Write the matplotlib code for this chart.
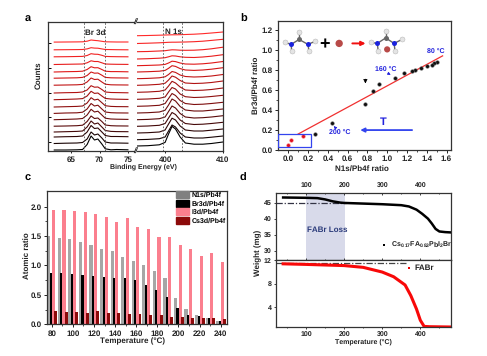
import matplotlib
matplotlib.use("Agg")
import matplotlib.pyplot as plt
from matplotlib import font_manager
from matplotlib.colors import LinearSegmentedColormap
from matplotlib.patches import Rectangle, Patch

font_manager.findfont(font_manager.FontProperties(family='Liberation Sans', weight='bold'), fallback_to_default=False)
plt.rcParams['font.family'] = ['Liberation Sans', 'DejaVu Sans']
plt.rcParams['font.weight'] = 'bold'
plt.rcParams['text.hinting'] = 'no_hinting'
plt.rcParams['text.hinting_factor'] = 1
plt.rcParams['mathtext.default'] = 'regular'
plt.rcParams['mathtext.fontset'] = 'custom'
plt.rcParams['mathtext.rm'] = 'Liberation Sans:bold'
plt.rcParams['axes.linewidth'] = 0.9
plt.rcParams['axes.edgecolor'] = '#333333'

W, H = 487, 356

# ---- panel a: spectra (arbitrary counts) ----
br_energy = [62, 64, 66, 67, 67.8, 68.5, 69.1, 69.7, 70.4, 71, 72, 73, 75]
br_counts = [
    [1, 1, 1.2, 1.5, 6.5, 15, 11, 12, 7, 2.2, 1.2, 1.5, 1.2],
    [7.5, 7.8, 8, 8.5, 12, 19, 16, 17, 13, 9, 8, 8, 7.8],
    [14, 14.3, 14.5, 15, 19, 25.5, 22.5, 23, 19, 15.5, 14.5, 14.5, 14.3],
    [19, 19.3, 19.6, 20, 24, 30, 27, 28, 24, 20.5, 19.6, 19.4, 19.3],
    [24.8, 25, 25.3, 25.8, 29.5, 35, 32.5, 33, 29.5, 26, 25.3, 25.1, 25],
    [31.3, 31.6, 32, 32.5, 36, 41.7, 39, 39.8, 36, 32.8, 32, 31.8, 31.6],
    [37.6, 38, 38.2, 38.8, 42, 47.5, 45, 45.8, 42, 39, 38.3, 38.1, 38],
    [44, 44.3, 44.6, 45, 48, 53.3, 51, 51.8, 48.3, 45.3, 44.6, 44.4, 44.3],
    [51.3, 51.6, 52, 52.4, 55, 59.7, 57.6, 58, 55, 52.6, 52, 51.8, 51.6],
    [58, 58.3, 58.5, 59, 61, 65.3, 63.8, 64, 61.5, 59, 58.5, 58.4, 58.2],
    [65.8, 66, 66.2, 66.6, 69, 73, 71.5, 71.8, 69, 66.8, 66.2, 66.1, 66],
    [72.8, 73, 73.2, 73.6, 75.5, 79, 77.8, 78, 75.8, 73.6, 73.2, 73.1, 73],
    [79, 79.3, 79.5, 79.8, 81.5, 84.3, 83.2, 83.3, 81.5, 79.8, 79.4, 79.4, 79.2],
    [86.5, 86.7, 86.9, 87, 88.2, 90.2, 89.5, 89.5, 88.2, 87, 86.8, 86.7, 86.6],
    [94.2, 94.3, 94.5, 94.6, 95.5, 97.3, 96.8, 96.7, 95.7, 94.6, 94.4, 94.3, 94.2],
    [101.2, 101.3, 101.4, 101.5, 102.1, 103.3, 102.9, 102.8, 102.1, 101.5, 101.4, 101.3, 101.2],
    [108.9, 109, 109.1, 109.2, 109.8, 111, 110.6, 110.3, 109.7, 109.2, 109.1, 109, 109],
]
n_energy = [395.15, 397, 399, 400, 400.6, 401.2, 401.8, 402.6, 403.5, 405, 406.5, 408, 410]
n_counts = [
    [5, 5.3, 6.2, 8.6, 17, 24.6, 22, 14, 8, 6.8, 6.8, 7.5, 9],
    [11.3, 11.6, 12.3, 14, 20, 26, 24, 18, 14, 13, 13, 13.8, 15],
    [18, 18.3, 19, 21, 27, 32.8, 31, 25, 21, 20, 20, 20.8, 22],
    [24.7, 25, 25.7, 27.5, 33, 38.5, 36.5, 31, 27.5, 26.5, 26.8, 27.5, 28.7],
    [31.3, 31.6, 32.3, 34, 39.5, 45, 43, 37.5, 34, 33, 33.3, 34, 35.3],
    [38, 38.3, 39, 40.8, 46, 52, 50, 44.5, 41, 40, 40, 40.8, 42],
    [44.7, 45, 45.7, 47.5, 52.5, 57.5, 55.5, 50.5, 47.5, 46.5, 46.8, 47.5, 48.7],
    [51.7, 52, 52.7, 54, 59, 63.5, 62, 57, 54.3, 53.5, 53.8, 54.5, 55.7],
    [58.7, 59, 59.7, 61, 65, 69.7, 68, 64, 61, 60.5, 60.8, 61.5, 63],
    [65.7, 66, 66.7, 67.8, 71, 75, 73.8, 70.5, 68, 67.5, 67.8, 68.5, 70],
    [72.3, 72.6, 73.2, 74.2, 76.5, 79.5, 78.6, 76, 74.5, 74, 74.3, 75, 76.5],
    [79, 79.3, 79.8, 80.6, 82.7, 85.3, 84.6, 82.4, 81, 80.6, 81, 81.8, 83.3],
    [85.3, 85.6, 86, 86.6, 88, 89.8, 89.4, 88, 87, 86.8, 87.2, 88, 89.5],
    [92, 92.3, 92.8, 93.3, 94.2, 95.2, 95, 94.2, 93.7, 93.5, 94, 94.8, 96.3],
    [99.3, 99.5, 100, 100.3, 100.8, 101.2, 101.1, 100.8, 100.7, 100.8, 101.3, 102.2, 103.8],
    [107.5, 107.8, 108.2, 108.5, 108.7, 108.8, 108.8, 108.9, 109, 109.3, 109.8, 110.6, 111.7],
    [115.3, 115.5, 115.8, 116, 116.1, 116.2, 116.2, 116.3, 116.5, 116.8, 117.3, 118, 119],
]

# ---- panel b ----
n_ratio_black = [1.5, 1.47, 1.455, 1.40, 1.34, 1.28, 1.25, 1.17, 1.08, 0.92, 0.86, 0.78, 0.44, 0.27]
br_ratio_black = [0.88, 0.875, 0.855, 0.84, 0.825, 0.80, 0.79, 0.775, 0.72, 0.66, 0.59, 0.46, 0.27, 0.16]
n_ratio_red = [0.15, 0.03, 0.0]
br_ratio_red = [0.145, 0.10, 0.05]
fit_x = [0.10, 1.56]
fit_y = [0.16, 0.945]

# ---- panel c ----
temps = [80, 90, 100, 110, 120, 130, 140, 150, 160, 170, 180, 190, 200, 210, 220, 230, 240]
n1s = [1.50, 1.47, 1.45, 1.40, 1.35, 1.28, 1.24, 1.15, 1.08, 1.01, 0.91, 0.78, 0.44, 0.26, 0.15, 0.10, 0.05]
br3d = [0.88, 0.88, 0.85, 0.84, 0.82, 0.80, 0.79, 0.78, 0.75, 0.67, 0.59, 0.46, 0.27, 0.16, 0.14, 0.10, 0.05]
i3d = [1.95, 1.95, 1.93, 1.90, 1.87, 1.83, 1.74, 1.80, 1.66, 1.62, 1.48, 1.49, 1.35, 1.28, 1.16, 1.22, 1.06]
cs3d = [0.22, 0.21, 0.21, 0.20, 0.22, 0.20, 0.19, 0.18, 0.17, 0.16, 0.15, 0.13, 0.12, 0.11, 0.10, 0.10, 0.09]

# ---- panel d ----
tga_t = [40, 100, 130, 150, 170, 190, 200, 250, 300, 350, 370, 390, 405, 420, 430, 440, 450, 465, 480]
tga_w = [46.6, 46.5, 46.4, 46.0, 45.4, 45.0, 44.9, 44.7, 44.5, 44.2, 43.8, 42.8, 41.5, 40.0, 38.5, 36.8, 36.0, 35.8, 35.7]
fabr_t = [40, 100, 200, 250, 300, 330, 360, 375, 390, 400, 410, 425, 480]
fabr_w = [11.4, 11.3, 11.1, 10.8, 10.0, 9.2, 7.8, 6.0, 3.7, 1.8, 0.75, 0.7, 0.65]

fig = plt.figure(figsize=(W / 100, H / 100), dpi=100, facecolor='white')


def axpx(x0, y0, x1, y1):
    return fig.add_axes([x0 / W, 1 - y1 / H, (x1 - x0) / W, (y1 - y0) / H])


def tpx(x, y, s, **kw):
    kw.setdefault('ha', 'center')
    kw.setdefault('va', 'center')
    kw.setdefault('color', '#222222')
    fig.text(x / W, 1 - y / H, s, **kw)


# ---------- a ----------
cm = LinearSegmentedColormap.from_list('t', ['#000000', '#5a0a0a', '#a01010', '#e01818', '#ff2a2a'])
axL = axpx(48, 22, 134, 151)
axR = axpx(137, 22, 223, 151)
n = len(br_counts)
for i in range(n):
    c = cm(i / (n - 1))
    axL.plot(br_energy, br_counts[i], color=c, lw=0.8)
    axR.plot(n_energy, n_counts[i], color=c, lw=0.8)
axL.set_xlim(60.9, 76.07)
axR.set_xlim(395.15, 410)
for a in (axL, axR):
    a.set_ylim(0, 129)
    a.tick_params(axis='x', labelsize=5.6, length=1.5, width=0.7, pad=2, colors='#222222')
for x in (67.3, 71):
    axL.axvline(x, color='#555555', lw=0.6, ls=(0, (2, 2)))
for x in (399.7, 403):
    axR.axvline(x, color='#555555', lw=0.6, ls=(0, (2, 2)))
axL.spines['right'].set_visible(False)
axR.spines['left'].set_visible(False)
axL.set_xticks([65, 70, 75])
axR.set_xticks([400, 410])
axL.set_yticks([9, 34, 58, 83, 108])
axL.tick_params(axis='y', direction='in', length=2, width=0.7, labelleft=False)
axR.set_yticks([])
tpx(95, 32.5, 'Br 3d', fontsize=5.5)
tpx(173, 32, 'N 1s', fontsize=5.5)
tpx(135.5, 21.5, '//', fontsize=5.5, style='italic')
tpx(135.5, 151, '//', fontsize=5.5, style='italic')
tpx(39, 75, 'Counts', fontsize=5.5, rotation=90)
tpx(143, 167, 'Binding Energy (eV)', fontsize=5.1)
tpx(28, 19.5, 'a', fontsize=8, color='black')

# ---------- b ----------
axb = axpx(278.3, 21, 451, 150)
axb.set_xlim(-0.1, 1.645)
axb.set_ylim(0, 1.295)
axb.plot(fit_x, fit_y, color='#f03030', lw=0.9, zorder=2)
axb.scatter(n_ratio_black, br_ratio_black, s=7, color='#111111', edgecolors='#777777', linewidths=0.3, zorder=3)
axb.scatter(n_ratio_red, br_ratio_red, s=7, color='#e01020', edgecolors='#ff8080', linewidths=0.3, zorder=3)
axb.add_patch(Rectangle((-0.1, 0.035), 0.33, 0.125, fill=False, ec='#3344ee', lw=0.9, zorder=4))
axb.set_xticks([0, 0.2, 0.4, 0.6, 0.8, 1.0, 1.2, 1.4, 1.6])
axb.set_xticks([0.1, 0.3, 0.5, 0.7, 0.9, 1.1, 1.3, 1.5], minor=True)
axb.set_yticks([0, 0.2, 0.4, 0.6, 0.8, 1.0, 1.2])
axb.set_yticks([0.1, 0.3, 0.5, 0.7, 0.9, 1.1], minor=True)
axb.xaxis.set_major_formatter(lambda v, p: f'{v:.1f}')
axb.yaxis.set_major_formatter(lambda v, p: f'{v:.1f}')
axb.tick_params(which='major', labelsize=6, length=2.5, width=0.7, pad=1.5, colors='#222222')
axb.tick_params(which='minor', length=1.5, width=0.5)
arrow = dict(arrowstyle='-|>', mutation_scale=4)
axb.annotate('', xy=(1.06, 0.74), xytext=(0.99, 0.78), arrowprops=dict(color='#2222dd', lw=0.6, **arrow))
axb.annotate('', xy=(0.44, 0.26), xytext=(0.49, 0.21), arrowprops=dict(color='#2222dd', lw=0.6, **arrow))
axb.annotate('', xy=(0.78, 0.64), xytext=(0.78, 0.74), arrowprops=dict(color='black', lw=0.5, arrowstyle='-|>', mutation_scale=6))
axb.annotate('', xy=(0.70, 0.20), xytext=(1.28, 0.20), arrowprops=dict(color='#3344ee', lw=1.3, arrowstyle='-|>', mutation_scale=6))
axb.annotate('', xy=(0.81, 1.07), xytext=(0.62, 1.07), arrowprops=dict(color='#f01010', lw=1.4, arrowstyle='-|>', mutation_scale=6))
for x, y, s in [(1.49, 0.99, '80 °C'), (0.99, 0.81, '160 °C'), (0.52, 0.18, '200 °C')]:
    axb.text(x, y, s, color='#2222dd', fontsize=5, ha='center', va='center')
axb.text(0.96, 0.275, 'T', color='#2222dd', fontsize=8, ha='center', va='center')
axb.text(0.365, 1.055, '+', color='black', fontsize=13, ha='center', va='center')
h_atoms = [(0.11, 1.18), (-0.03, 1.08), (0.035, 0.99), (0.27, 1.09), (0.21, 0.99),
           (0.985, 1.19), (0.84, 1.08), (0.91, 0.99), (1.15, 1.11), (1.08, 0.99)]
n_atoms = [(0.03, 1.06), (0.20, 1.06), (0.90, 1.07), (1.07, 1.07)]
c_atoms = [(0.11, 1.11), (0.985, 1.125)]
mol1 = [[(0.11, 1.11), (0.03, 1.06)], [(0.11, 1.11), (0.20, 1.06)], [(0.11, 1.11), (0.11, 1.18)],
        [(0.03, 1.06), (-0.03, 1.08)], [(0.03, 1.06), (0.035, 0.99)], [(0.20, 1.06), (0.27, 1.09)], [(0.20, 1.06), (0.21, 0.99)]]
mol2 = [[(0.985, 1.125), (0.90, 1.07)], [(0.985, 1.125), (1.07, 1.07)], [(0.985, 1.125), (0.985, 1.19)],
        [(0.90, 1.07), (0.84, 1.08)], [(0.90, 1.07), (0.91, 0.99)], [(1.07, 1.07), (1.15, 1.11)], [(1.07, 1.07), (1.08, 0.99)]]
for bond in mol1 + mol2:
    axb.plot([bond[0][0], bond[1][0]], [bond[0][1], bond[1][1]], color='#666666', lw=1.0, zorder=3)
axb.scatter(*zip(*h_atoms), s=13, color='#e4e4e4', edgecolors='#aaaaaa', linewidths=0.3, zorder=4)
axb.scatter(*zip(*n_atoms), s=13, color='#1a22dd', linewidths=0, zorder=4)
axb.scatter(*zip(*c_atoms), s=13, color='#666666', linewidths=0, zorder=4)
axb.scatter([0.515, 1.0], [1.07, 1.01], s=[28, 20], color='#b84a48', linewidths=0, zorder=4)
tpx(362, 169, 'N1s/Pb4f ratio', fontsize=5.6)
tpx(256, 85, 'Br3d/Pb4f ratio', fontsize=5.6, rotation=90)
tpx(244, 19.5, 'b', fontsize=8, color='black')

# ---------- c ----------
axc = axpx(47, 191, 226.7, 324.3)
axc.set_xlim(75.5, 245.7)
axc.set_ylim(0, 2.265)
series_c = [(n1s, -2.8, 3.0, '#a6a6a6', 'N1s/Pb4f'), (br3d, -0.6, 2.6, '#000000', 'Br3d/Pb4f'),
            (i3d, 1.6, 2.9, '#fb7f8e', 'I3d/Pb4f'), (cs3d, 3.6, 2.8, '#8c0a0a', 'Cs3d/Pb4f')]
for vals, off, w, col, lab in series_c:
    axc.bar([t + off for t in temps], vals, width=w, color=col, linewidth=0)
axc.set_xticks(temps[::2])
axc.set_xticks(temps[1::2], minor=True)
axc.set_yticks([0, 0.5, 1.0, 1.5, 2.0])
axc.set_yticks([0.25, 0.75, 1.25, 1.75], minor=True)
axc.yaxis.set_major_formatter(lambda v, p: f'{v:.1f}')
axc.tick_params(which='major', labelsize=5.7, length=2.5, width=0.7, pad=1.5, colors='#222222')
axc.tick_params(which='minor', length=1.5, width=0.5)
swatch_cols = ['#808080', '#000000', '#fb7f8e', '#8c0a0a']
leg = axc.legend([Patch(color=c) for c in swatch_cols], [s[4] for s in series_c],
                 loc='upper left', bbox_to_anchor=(0.715, 1.005), frameon=False, fontsize=5.0,
                 handlelength=1.9, handleheight=1.15, handletextpad=0.35, labelspacing=0.2,
                 borderpad=0.1, borderaxespad=0)
tpx(133, 341, 'Temperature (°C)', fontsize=6)
tpx(27, 256, 'Atomic ratio', fontsize=5.8, rotation=90)
tpx(28, 178, 'c', fontsize=8, color='black')

# ---------- d ----------
axd1 = axpx(275.7, 193, 451, 260)
axd2 = axpx(275.7, 260, 451, 327)
for a in (axd1, axd2):
    a.set_xlim(20.5, 480.5)
    a.set_xticks([100, 200, 300, 400])
    a.set_xticks([50, 150, 250, 350, 450], minor=True)
axd1.set_ylim(27.1, 48)
axd2.set_ylim(0.65, 12.05)
axd1.axvspan(100, 203, color='#d8daea', lw=0, zorder=0)
axd1.axhline(45, xmax=0.4, color='#333344', lw=0.9, ls=(0, (5, 1.5, 1, 1.5)), zorder=1)
axd1.plot(tga_t, tga_w, color='black', lw=1.8, zorder=2)
axd2.plot([20.5, 362], [11.6, 11.6], color='#444444', lw=0.9, ls=(0, (5, 1.5, 1, 1.5)), zorder=1)
axd2.plot(fabr_t, fabr_w, color='#f80808', lw=2.2, zorder=2)
axd1.set_yticks([30, 35, 40, 45])
axd2.set_yticks([4, 8, 12])
axd1.tick_params(axis='x', which='both', top=True, bottom=True, labeltop=True, labelbottom=False, direction='in', labelsize=5.3, pad=3)
axd2.tick_params(axis='x', which='both', top=False, bottom=True, direction='out', labelsize=5.3, pad=1)
for a in (axd1, axd2):
    a.tick_params(axis='both', which='major', length=1.5, width=0.6, colors='#222222')
    a.tick_params(axis='both', which='minor', length=1, width=0.5)
    a.tick_params(axis='y', labelsize=5.3, pad=1.5)
axd1.text(155, 36.6, 'FABr Loss', color='#2a3a7a', fontsize=6, ha='center', va='center')
axd1.scatter([305], [31.7], s=3, marker='s', color='black', linewidths=0)
axd1.text(322, 31.7, r'Cs$_{0.17}$FA$_{0.83}$PbI$_{2}$Br', fontsize=5.4, color='#222222', ha='left', va='center')
axd2.scatter([369], [10.75], s=4, marker='s', color='#f00000', linewidths=0)
axd2.text(385, 10.75, 'FABr', fontsize=5.6, color='#222222', ha='left', va='center')
tpx(363, 342, 'Temperature (°C)', fontsize=5.2)
tpx(258, 253, 'Weight (mg)', fontsize=5.8, rotation=90)
tpx(243, 178, 'd', fontsize=8, color='black')

fig.savefig('out.png', dpi=100)
